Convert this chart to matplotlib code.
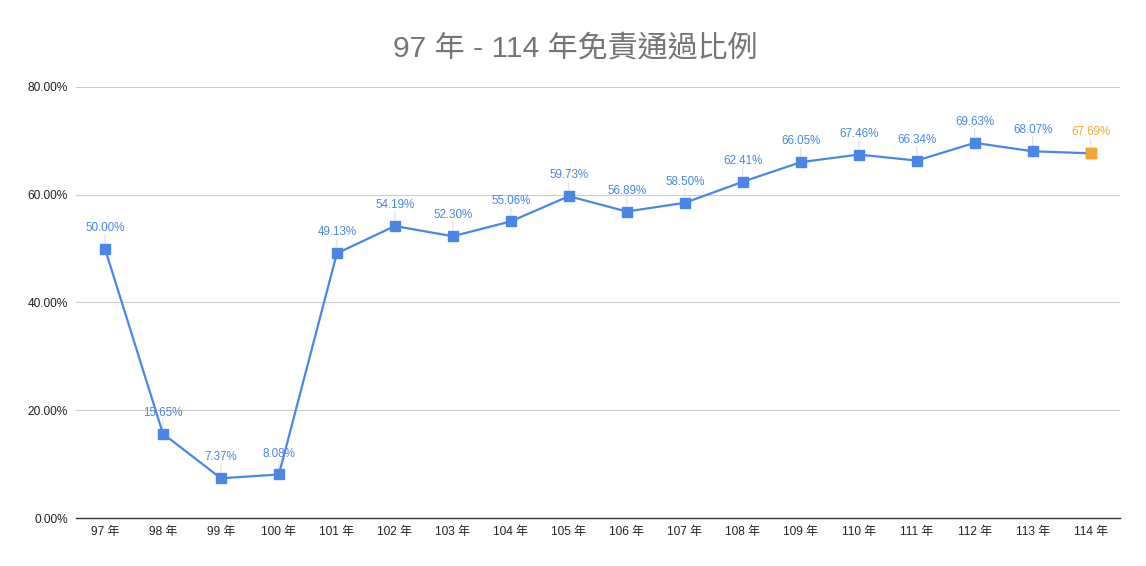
import matplotlib.pyplot as plt
from matplotlib.ticker import FuncFormatter

plt.rcParams['font.family'] = ['Liberation Sans', 'Noto Sans CJK TC', 'DejaVu Sans']

# 資料
years = ["97 年", "98 年", "99 年", "100 年", "101 年", "102 年", "103 年", "104 年", "105 年",
         "106 年", "107 年", "108 年", "109 年", "110 年", "111 年", "112 年", "113 年", "114 年"]
rates = [50.00, 15.65, 7.37, 8.08, 49.13, 54.19, 52.30, 55.06, 59.73,
         56.89, 58.50, 62.41, 66.05, 67.46, 66.34, 69.63, 68.07, 67.69]

blue = '#4a86e8'
orange = '#f4a53a'

fig = plt.figure(figsize=(11.46, 5.66), dpi=100)
ax = fig.add_axes([0.0663, 0.0848, 0.9107, 0.7615])

x = list(range(len(years)))
ax.plot(x, rates, color=blue, lw=1.6, marker='s', markersize=6.5, zorder=3)
# 最後一點為橘色
ax.plot(x[-1], rates[-1], marker='s', markersize=6.5, color=orange, ls='none', zorder=4)

for i, v in enumerate(rates):
    c = orange if i == len(rates) - 1 else blue
    # 標籤引線
    ax.annotate('', (i, v), xytext=(0, 10.5), textcoords='offset points', zorder=2,
                arrowprops=dict(arrowstyle='-', color='#e0e0e0', lw=0.8,
                                shrinkA=0, shrinkB=4))
    ax.annotate(f"{v:.2f}%", (i, v), xytext=(0, 15), textcoords='offset points',
                ha='center', va='center', fontsize=8.4, color=c, zorder=5)

ax.set_xlim(-0.5, len(years) - 0.5)
ax.set_ylim(0, 80)
ax.set_yticks([0, 20, 40, 60, 80])
ax.yaxis.set_major_formatter(FuncFormatter(lambda v, p: f"{v:.2f}%"))
ax.set_xticks(x)
ax.set_xticklabels(years)
ax.tick_params(axis='both', length=0, labelsize=8.6, colors='#222222')
ax.tick_params(axis='x', pad=6)
ax.tick_params(axis='y', pad=6)
ax.grid(axis='y', color='#cccccc', lw=0.8)
ax.set_axisbelow(True)
for s in ['top', 'right', 'left']:
    ax.spines[s].set_visible(False)
ax.spines['bottom'].set_color('#333333')
ax.spines['bottom'].set_linewidth(1.0)

fig.text(0.502, 0.914, "97 年 - 114 年免責通過比例", ha='center', va='center',
         fontsize=21.6, color='#757575')

fig.savefig('out.png', dpi=100)
